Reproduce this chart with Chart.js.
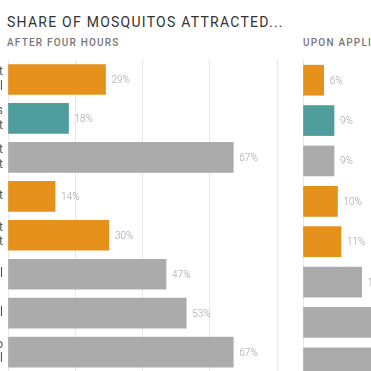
<!DOCTYPE html>
<html>
<head>
<meta charset="utf-8">
<script src="https://cdn.jsdelivr.net/npm/chart.js@4.4.1/dist/chart.umd.min.js"></script>
<style>
  html, body { margin: 0; padding: 0; background: #fff; }
  body { width: 371px; height: 371px; overflow: hidden; position: relative; font-family: Roboto, sans-serif; }
  .title { position: absolute; left: 7px; top: 14px; font-size: 14px; line-height: 16px; color: #333; letter-spacing: 1.25px; white-space: nowrap; }
  .sub { position: absolute; top: 37px; font-size: 10px; line-height: 12px; font-weight: 500; color: #777; letter-spacing: 1.2px; white-space: nowrap; }
  canvas { position: absolute; top: 0; }
</style>
</head>
<body>
<div class="title">SHARE OF MOSQUITOS ATTRACTED...</div>
<div class="sub" style="left:7px">AFTER FOUR HOURS</div>
<div class="sub" style="left:303px">UPON APPLICATION</div>
<canvas id="leftChart" width="420" height="391" style="left:-142px"></canvas>
<canvas id="rightChart" width="140" height="391" style="left:301px"></canvas>
<script>
// products, top to bottom
var products = [
  ["Victoria's Secret", "Bombshell"],
  ["Cutter Skinsations", "Insect Repellent"],
  ["EcoSmart Organic Insect", "Repellent"],
  "Invisaband bracelet",
  ["Off! Botanicals Insect", "Repellent"],
  "Mosquito Skater band control",
  "No-treatment control",
  ["Vitamin B1 patch, no", "treatment control"]
];
var productTypes = ['spray', 'oil', 'device', 'spray', 'spray', 'device', 'device', 'device'];
// percent of mosquitos attracted
var afterFourHours = [29, 18, 67, 14, 30, 47, 53, 67];
var uponApplication = [6, 9, 9, 10, 11, 17, 25, 31];
var gridSteps = [0, 20, 40, 60, 80];

var typeColors = { spray: '#e6911b', oil: '#4f9e9d', device: '#ababab' };
var colors = productTypes.map(function (t) { return typeColors[t]; });

var valueLabels = {
  id: 'valueLabels',
  afterDatasetsDraw: function (chart) {
    var ctx = chart.ctx;
    var meta = chart.getDatasetMeta(0);
    var vals = chart.data.datasets[0].data;
    ctx.save();
    ctx.font = '300 10px Roboto';
    ctx.fillStyle = '#a3a3a3';
    ctx.textBaseline = 'middle';
    meta.data.forEach(function (bar, i) {
      ctx.fillText(vals[i] + '%', bar.x + 6, bar.y + 1);
    });
    ctx.restore();
  }
};

function makeChart(id, values, showLabels, max) {
  return new Chart(document.getElementById(id), {
    type: 'bar',
    data: {
      labels: products,
      datasets: [{
        data: values,
        backgroundColor: colors,
        barThickness: 30
      }]
    },
    options: {
      indexAxis: 'y',
      responsive: false,
      animation: false,
      devicePixelRatio: 1,
      layout: { padding: { top: 60, bottom: 8, left: showLabels ? 0 : 2, right: showLabels ? 1 : 0 } },
      plugins: { legend: { display: false }, tooltip: { enabled: false } },
      scales: {
        x: {
          min: 0,
          max: max,
          afterBuildTicks: function (scale) {
            scale.ticks = gridSteps.filter(function (v) { return v <= max; }).map(function (v) { return { value: v }; });
          },
          ticks: { display: false },
          border: { display: false },
          grid: { color: '#e8e8e8', drawTicks: false, lineWidth: 1 }
        },
        y: {
          display: showLabels,
          afterFit: function (scale) { if (showLabels) scale.width = 150; },
          ticks: { color: '#555', padding: 5, font: { family: 'Roboto', size: 12, lineHeight: 1.2 } },
          border: { display: false },
          grid: { display: false, drawTicks: false }
        }
      }
    },
    plugins: [valueLabels]
  });
}

makeChart('leftChart', afterFourHours, true, 80);
makeChart('rightChart', uponApplication, false, 40);
</script>
</body>
</html>
